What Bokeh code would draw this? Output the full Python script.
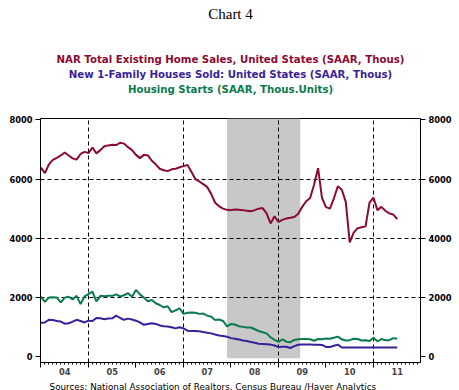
from bokeh.plotting import figure
from bokeh.layouts import column
from bokeh.models import (Range1d, FixedTicker, LinearAxis, ColumnDataSource,
                          CustomLabelingPolicy)
from bokeh.core.properties import value
from bokeh.embed import file_html
from bokeh.resources import INLINE

# ---- data (monthly, Jan 2004 .. Jul 2011), SAAR thousands ----
start_year = 2004
existing_sales = [
    6390, 6200, 6500, 6650, 6720, 6800, 6900, 6800, 6700, 6660, 6850, 6920,   # 2004
    6880, 7070, 6870, 6980, 7110, 7140, 7160, 7150, 7230, 7200, 7080, 6980,   # 2005
    6820, 6710, 6820, 6800, 6620, 6500, 6350, 6300, 6270, 6330, 6350, 6400,   # 2006
    6440, 6480, 6250, 6000, 5920, 5830, 5730, 5500, 5200, 5080, 5000, 4960,   # 2007
    4950, 4970, 4960, 4950, 4930, 4910, 4950, 5000, 5020, 4840, 4500, 4740,   # 2008
    4550, 4620, 4670, 4690, 4720, 4830, 5060, 5250, 5360, 5820, 6370, 5360,   # 2009
    5050, 5000, 5350, 5760, 5640, 5230, 3860, 4190, 4340, 4370, 4400, 5200,   # 2010
    5370, 4950, 5060, 4930, 4840, 4800, 4650,                                 # 2011
]
new_home_sales = [
    1140, 1150, 1240, 1230, 1200, 1180, 1110, 1120, 1180, 1240, 1200, 1150,
    1210, 1200, 1300, 1290, 1260, 1280, 1290, 1380, 1300, 1240, 1280, 1250,
    1210, 1150, 1070, 1100, 1120, 1100, 1050, 1020, 1010, 990, 950, 990,
    950, 870, 860, 860, 850, 830, 800, 780, 740, 710, 690, 670,
    620, 600, 570, 540, 520, 490, 460, 430, 420, 410, 400, 370,
    320, 330, 330, 285, 350, 395, 400, 400, 400, 395, 395, 390,
    320, 320, 360, 400, 300, 300, 300, 300, 300, 300, 300, 300,
    300, 300, 300, 300, 300, 300, 300,
]
housing_starts = [
    2020, 1850, 1990, 2000, 1990, 1830, 1990, 2020, 1930, 2050, 1770, 2030,
    2110, 2190, 1860, 2050, 2040, 2050, 2050, 2100, 2030, 2070, 2140, 2020,
    2250, 2100, 1990, 1870, 1910, 1800, 1740, 1660, 1700, 1500, 1560, 1630,
    1440, 1480, 1490, 1480, 1440, 1450, 1380, 1340, 1230, 1250, 1200, 1020,
    1100, 1080, 1020, 1000, 980, 980, 920, 860, 820, 780, 650, 560,
    490, 580, 500, 480, 560, 580, 590, 590, 580, 530, 590, 580,
    610, 600, 630, 670, 580, 540, 550, 600, 590, 540, 550, 520,
    630, 510, 590, 550, 550, 620, 600,
]
recession = (2007 + 11 / 12, 2009 + 5.5 / 12)
year_labels = ["04", "05", "06", "07", "08", "09", "10", "11"]
y_ticks = [0, 2000, 4000, 6000, 8000]

chart_title = "Chart 4"
series_names = ["NAR Total Existing Home Sales, United States (SAAR, Thous)",
                "New 1-Family Houses Sold: United States (SAAR, Thous)",
                "Housing Starts (SAAR, Thous.Units)"]
source_note = "Sources:  National Association of Realtors, Census Bureau /Haver Analytics"

RED = "#8c0a32"
BLUE = "#3a1f9a"
GREEN = "#0b7a4c"
series_colors = [RED, BLUE, GREEN]

W = 459
TICK_FONT = "DejaVu Sans"

# ---------------- header (title + coloured series names) ----------------
HDR_H = 100
hdr = figure(width=W, height=HDR_H, output_backend="svg", toolbar_location=None,
             x_range=Range1d(0, W), y_range=Range1d(HDR_H, 0),
             x_axis_type=None, y_axis_type=None,
             min_border_left=0, min_border_right=0, min_border_top=0, min_border_bottom=0,
             outline_line_color=None, background_fill_color="white",
             border_fill_color="white")
hdr.text(x=[229.5], y=[13.5], text=[chart_title], text_align="center",
         text_baseline="middle", text_font=value("Liberation Serif"),
         text_font_size="15px", text_color="black")
hdr.text(x=[229.5] * 3, y=[59, 73.5, 88.5], text=series_names, text_align="center",
         text_baseline="middle", text_font=value("DejaVu Sans"),
         text_font_style="bold", text_font_size="10.2px", text_color=series_colors)

# ---------------- main chart ----------------
months = [start_year + i / 12 for i in range(len(existing_sales))]
src = ColumnDataSource(dict(x=months, ex=existing_sales, nh=new_home_sales, hs=housing_starts))

X0, X1 = 2003.99, 2011.99
Y0, Y1 = -205, 8050

p = figure(width=W, height=277, output_backend="svg", toolbar_location=None,
           x_range=Range1d(X0, X1), y_range=Range1d(Y0, Y1),
           min_border_left=40, min_border_right=39, min_border_top=18, min_border_bottom=15,
           background_fill_color="white", border_fill_color="white")
p.outline_line_color = "black"
p.outline_line_width = 1

# recession shading (under the grid)
p.quad(left=[recession[0]], right=[recession[1]], bottom=[-60], top=[Y1],
       fill_color="#c8c8c8", line_color=None, level="image")

# grids
p.xgrid.ticker = FixedTicker(ticks=[2005, 2007, 2009, 2011])
p.ygrid.ticker = FixedTicker(ticks=[2000, 4000, 6000])
for g in (p.xgrid, p.ygrid):
    g.grid_line_color = "black"
    g.grid_line_dash = "4 3"
    g.grid_line_width = 1

# lines
p.line("x", "ex", source=src, line_color=RED, line_width=2)
p.line("x", "hs", source=src, line_color=GREEN, line_width=2)
p.line("x", "nh", source=src, line_color=BLUE, line_width=2)

# y axes
def style_y(ax):
    ax.ticker = FixedTicker(ticks=y_ticks)
    ax.major_label_overrides = {t: str(t) for t in y_ticks}
    ax.major_tick_in = 0
    ax.major_tick_out = 5
    ax.minor_tick_line_color = None
    ax.axis_line_color = None
    ax.major_label_standoff = 3
    ax.major_label_text_font = TICK_FONT
    ax.major_label_text_font_style = "bold"
    ax.major_label_text_font_size = "8.3px"
    ax.major_label_text_color = "black"

style_y(p.yaxis[0])
ry = LinearAxis()
style_y(ry)
p.add_layout(ry, "right")

# x axis 1: tick marks only (years major, months minor), labels switched off
xa = p.xaxis[0]
xa.ticker = FixedTicker(ticks=list(range(2004, 2013)),
                        minor_ticks=[2004 + i / 12 for i in range(0, 97)])
xa.major_tick_in = 0
xa.major_tick_out = 5
xa.minor_tick_in = 0
xa.minor_tick_out = 2
xa.major_label_policy = CustomLabelingPolicy(code="return []")
xa.major_label_text_color = None
xa.major_label_standoff = 0
xa.axis_line_color = "black"

# x axis 2: year labels centred on mid-year
lab_ticks = [2004.5 + i for i in range(len(year_labels))]
xl = LinearAxis(ticker=FixedTicker(ticks=lab_ticks, minor_ticks=[]))
xl.major_label_overrides = {t: s for t, s in zip(lab_ticks, year_labels)}
xl.major_tick_out = 0
xl.major_tick_in = 0
xl.minor_tick_line_color = None
xl.axis_line_color = None
xl.major_label_standoff = 0
xl.major_label_text_font = TICK_FONT
xl.major_label_text_font_style = "bold"
xl.major_label_text_font_size = "8.3px"
p.add_layout(xl, "below")

# ---------------- footer: sources (pixel-coordinate frame 30..449) ----------------
FOOT_H = 13
foot = figure(width=W, height=FOOT_H, output_backend="svg", toolbar_location=None,
              x_range=Range1d(30, 449), y_range=Range1d(FOOT_H, 0),
              x_axis_type=None, y_axis_type=None,
              min_border_left=30, min_border_right=10, min_border_top=0, min_border_bottom=0,
              outline_line_color=None, background_fill_color="white",
              border_fill_color="white")
foot.text(x=[40], y=[9.5], text=[source_note], text_align="left",
          text_baseline="alphabetic", text_font=value("DejaVu Sans"),
          text_font_size="8.8px", text_color="black")

layout = column(hdr, p, foot, spacing=0)
open("out.html", "w").write(file_html(layout, INLINE))
